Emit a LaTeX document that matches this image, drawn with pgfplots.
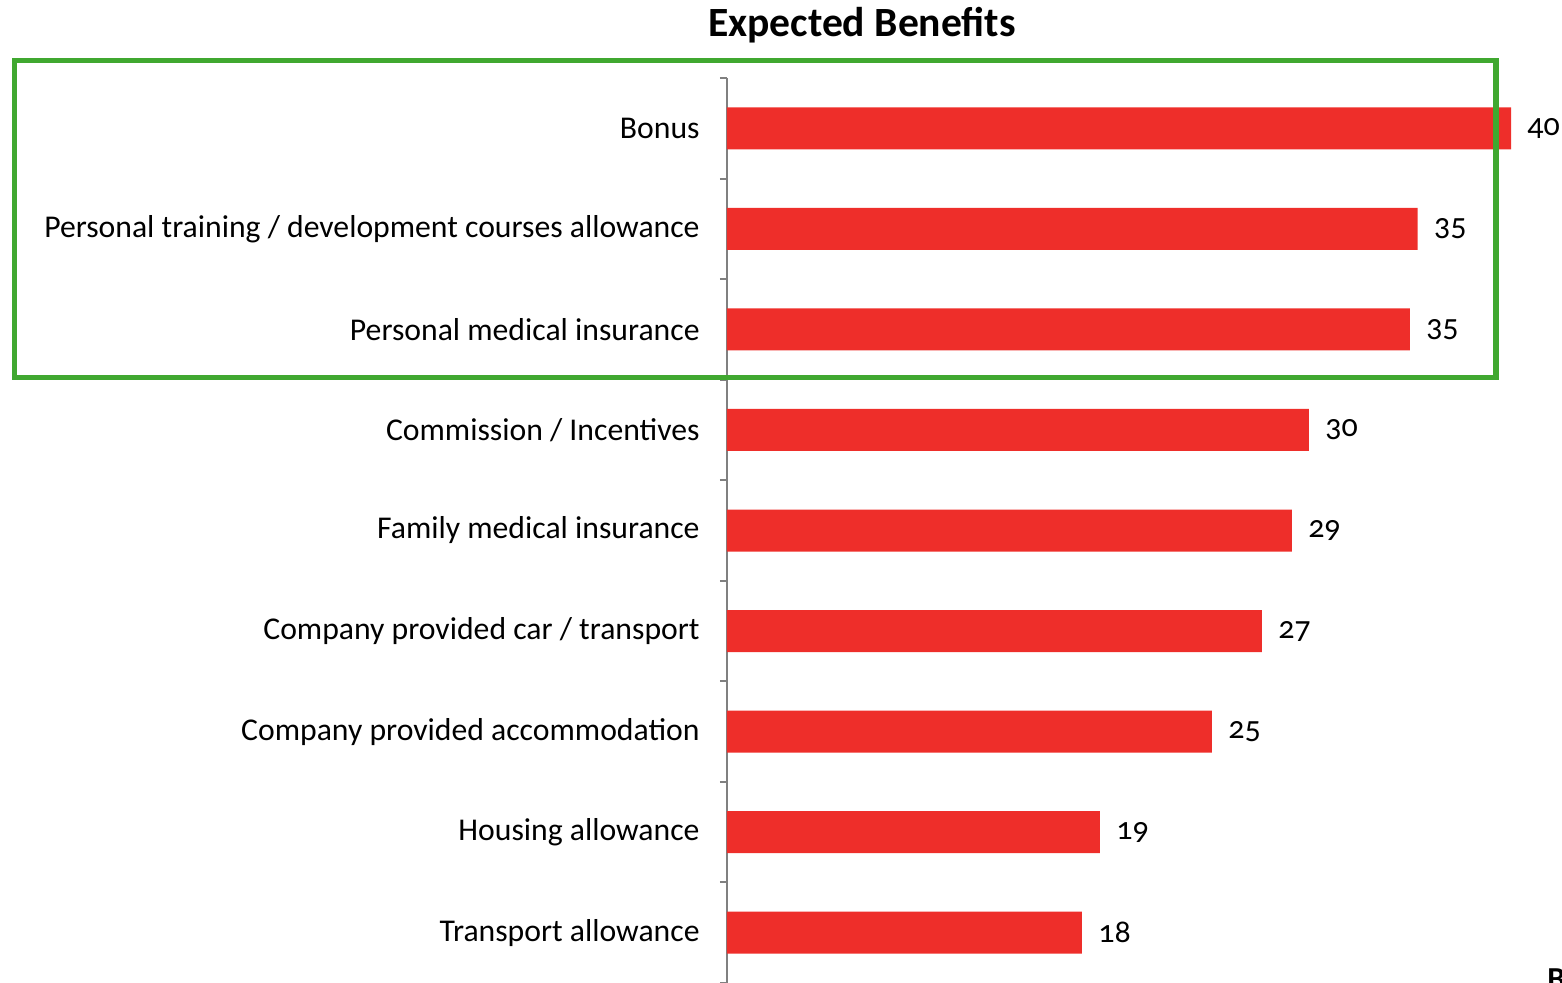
\documentclass[border=0pt]{standalone}
\usepackage{fontspec}
\setmainfont{Carlito}[Numbers=OldStyle]
\usepackage{pgfplots}
\pgfplotsset{compat=1.18}
\definecolor{barred}{RGB}{238,46,42}
\definecolor{boxgreen}{RGB}{64,168,48}
\definecolor{axgray}{RGB}{128,128,128}
\begin{document}
\begin{tikzpicture}
\begin{axis}[
  scale only axis,
  width=411.6pt, height=452.5pt,
  xmin=0, xmax=42, ymin=-0.5, ymax=8.5,
  xbar, bar width=21pt,
  axis x line=none,
  axis y line=left,
  y axis line style={-, draw=axgray, line width=1pt},
  ytick={0,...,8},
  yticklabels={Transport allowance, Housing allowance, Company provided accommodation, Company provided car / transport, Family medical insurance, Commission / Incentives, Personal medical insurance, Personal training / development courses allowance, Bonus},
  major tick length=0pt,
  minor ytick={-0.5,0.5,...,8.5},
  minor y tick style={draw=axgray, line width=1pt},
  tick align=outside,
  minor tick length=3.5pt,
  yticklabel style={font=\fontsize{15.85}{18}\selectfont, anchor=east, inner sep=0pt, xshift=-13.5pt},
  clip=false,
  nodes near coords,
  point meta=explicit symbolic,
  nodes near coords style={anchor=west, inner sep=0pt, xshift=8pt, font=\fontsize{16}{18}\selectfont, text=black},
]
\addplot[fill=barred, draw=none] coordinates {
  (18.11,0) [18]
  (19.03,1) [19]
  (24.74,2) [25]
  (27.29,3) [27]
  (28.82,4) [29]
  (29.69,5) [30]
  (34.84,6) [35]
  (35.24,7) [35]
  (40,8) [40]
};
\draw[boxgreen, line width=2.75pt] (axis cs:-36.34,8.676) rectangle (axis cs:39.23,5.523);
\node[anchor=base, font=\fontsize{20.8}{24}\selectfont\bfseries] at (axis cs:6.89,8.917) {Expected Benefits};
\node[anchor=north west, inner sep=0pt, font=\fontsize{16}{18}\selectfont\bfseries] at (axis cs:41.84,-0.351) {B};
\coordinate (tl) at (rel axis cs:0,1);
\end{axis}
\pgfresetboundingbox
\path[use as bounding box] (tl) ++(-363.5pt,39pt) rectangle ++(781pt,-491pt);
\end{tikzpicture}
\end{document}
